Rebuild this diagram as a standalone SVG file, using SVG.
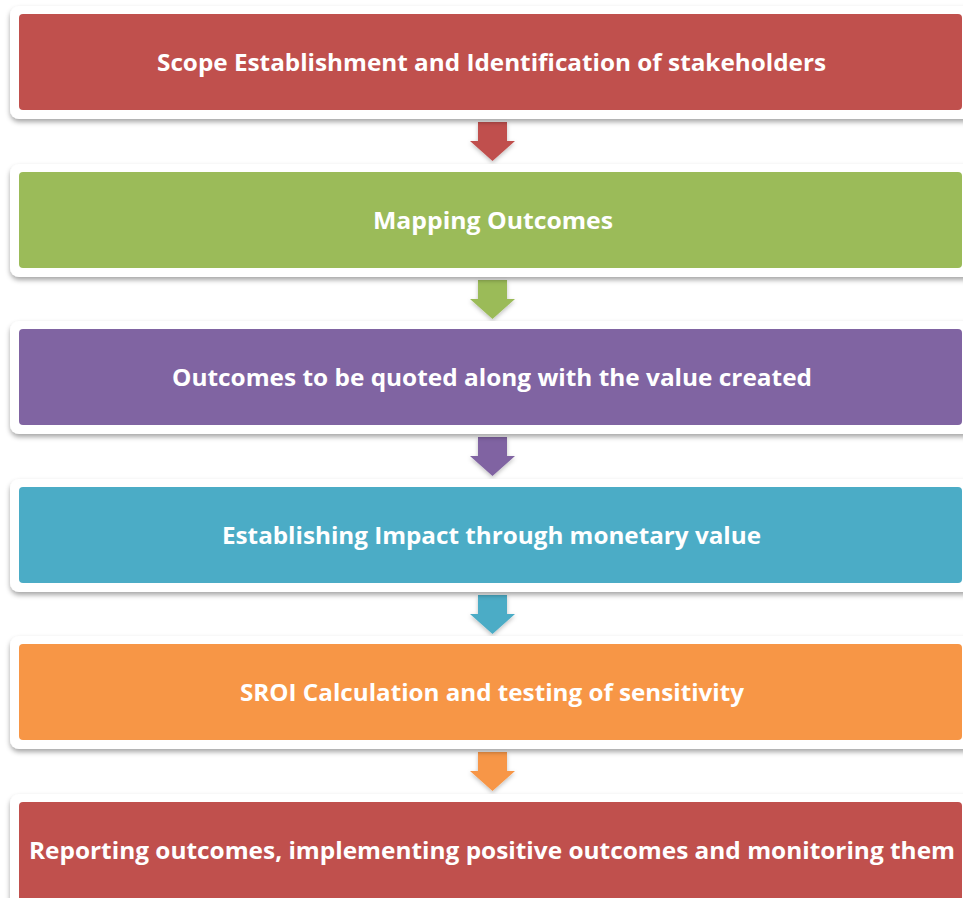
<svg xmlns="http://www.w3.org/2000/svg" width="963" height="898" viewBox="0 0 963 898">
<defs>
<filter id="sh" x="-5%" y="-20%" width="110%" height="150%">
<feDropShadow dx="0" dy="3" stdDeviation="2.5" flood-color="#000" flood-opacity="0.35"/>
</filter>
<filter id="ash" x="-30%" y="-30%" width="160%" height="160%">
<feDropShadow dx="0" dy="2" stdDeviation="2" flood-color="#000" flood-opacity="0.25"/>
</filter>
</defs>
<style>
.frame{fill:#fff;filter:url(#sh)}
.lbl{font-family:"Open Sans","Liberation Sans",sans-serif;font-weight:bold;font-size:24px;fill:#fff;text-anchor:middle}
</style>
<rect width="963" height="898" fill="#fff"/>
<g id="connectors" filter="url(#ash)">
<polygon points="478,122 507,122 507,141 515,141 492.5,161 470,141 478,141" fill="#C0504D"/>
<polygon points="478,280 507,280 507,299 515,299 492.5,319 470,299 478,299" fill="#9BBB59"/>
<polygon points="478,437 507,437 507,456 515,456 492.5,476 470,456 478,456" fill="#8064A2"/>
<polygon points="478,595 507,595 507,614 515,614 492.5,634 470,614 478,614" fill="#4BACC6"/>
<polygon points="478,752 507,752 507,771 515,771 492.5,791 470,771 478,771" fill="#F79646"/>
</g>
<g id="n1">
<rect class="frame" x="10" y="6" width="970" height="113" rx="9"/>
<rect x="19" y="14" width="943" height="96" rx="4" fill="#C0504D"/>
<text class="lbl" x="491.5" y="71" textLength="669" lengthAdjust="spacingAndGlyphs">Scope Establishment and Identification of stakeholders</text>
</g>
<g id="n2">
<rect class="frame" x="10" y="164" width="970" height="113" rx="9"/>
<rect x="19" y="172" width="943" height="96" rx="4" fill="#9BBB59"/>
<text class="lbl" x="493" y="229" textLength="240" lengthAdjust="spacingAndGlyphs">Mapping Outcomes</text>
</g>
<g id="n3">
<rect class="frame" x="10" y="321" width="970" height="113" rx="9"/>
<rect x="19" y="329" width="943" height="96" rx="4" fill="#8064A2"/>
<text class="lbl" x="492" y="386" textLength="640" lengthAdjust="spacingAndGlyphs">Outcomes to be quoted along with the value created</text>
</g>
<g id="n4">
<rect class="frame" x="10" y="479" width="970" height="113" rx="9"/>
<rect x="19" y="487" width="943" height="96" rx="4" fill="#4BACC6"/>
<text class="lbl" x="491.5" y="544" textLength="539" lengthAdjust="spacingAndGlyphs">Establishing Impact through monetary value</text>
</g>
<g id="n5">
<rect class="frame" x="10" y="636" width="970" height="113" rx="9"/>
<rect x="19" y="644" width="943" height="96" rx="4" fill="#F79646"/>
<text class="lbl" x="492" y="701" textLength="504" lengthAdjust="spacingAndGlyphs">SROI Calculation and testing of sensitivity</text>
</g>
<g id="n6">
<rect class="frame" x="10" y="794" width="970" height="113" rx="9"/>
<rect x="19" y="802" width="943" height="110" rx="4" fill="#C0504D"/>
<text class="lbl" x="492" y="859" textLength="926" lengthAdjust="spacingAndGlyphs">Reporting outcomes, implementing positive outcomes and monitoring them</text>
</g>
</svg>
